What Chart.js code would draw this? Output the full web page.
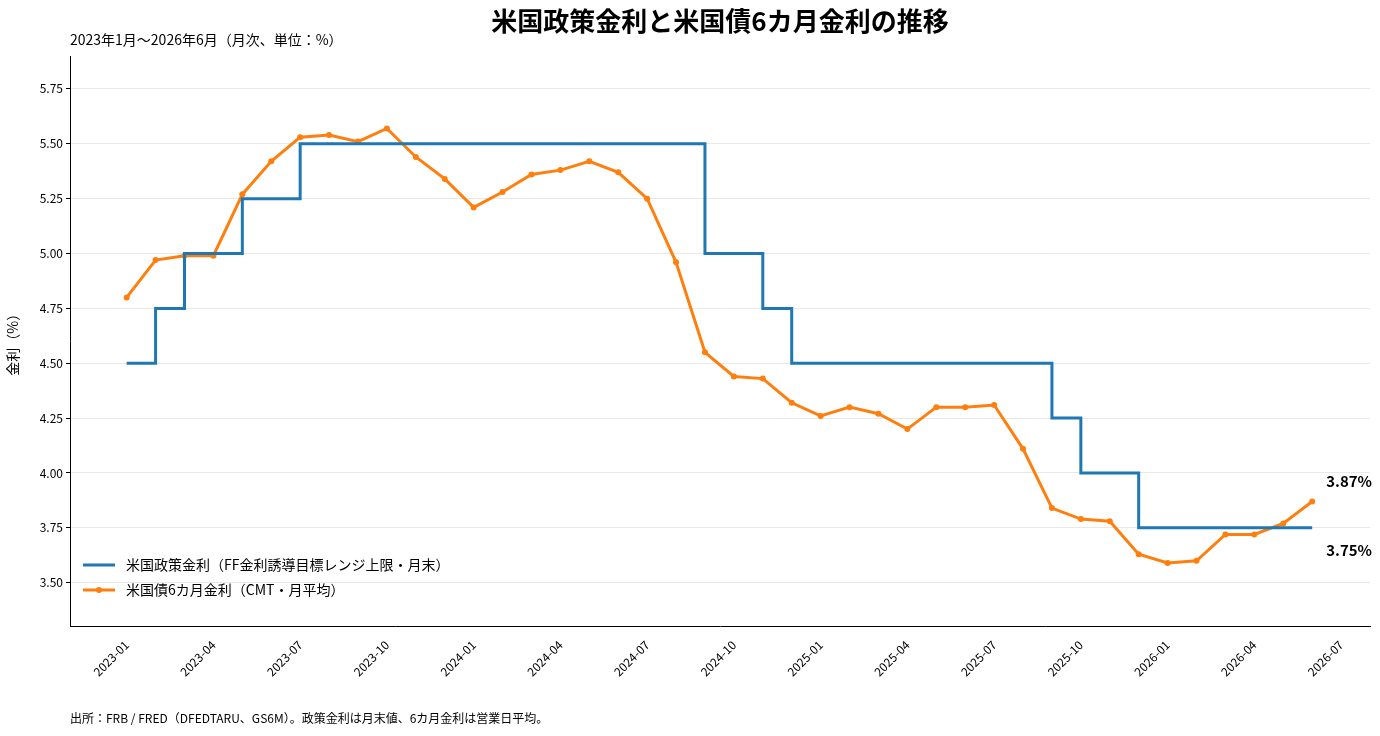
<!DOCTYPE html>
<html><head><meta charset="utf-8">
<script src="https://cdn.jsdelivr.net/npm/chart.js@4"></script>
<style>body{margin:0;background:#fff}#w{width:1380px;height:736px}</style>
</head><body><div id="w"><canvas id="c"></canvas></div>
<script>
const months = [];
for (let y = 2023; y <= 2026; y++) for (let m = 1; m <= 12; m++) if (y < 2026 || m <= 6) months.push(y + '-' + String(m).padStart(2, '0'));
const policyRate = [4.50,4.75,5.00,5.00,5.25,5.25,5.50,5.50,5.50,5.50,5.50,5.50,
  5.50,5.50,5.50,5.50,5.50,5.50,5.50,5.50,5.00,5.00,4.75,4.50,
  4.50,4.50,4.50,4.50,4.50,4.50,4.50,4.50,4.25,4.00,4.00,3.75,
  3.75,3.75,3.75,3.75,3.75,3.75];
const bill6m = [4.80,4.97,4.99,4.99,5.27,5.42,5.53,5.54,5.51,5.57,5.44,5.34,
  5.21,5.28,5.36,5.38,5.42,5.37,5.25,4.96,4.55,4.44,4.43,4.32,
  4.26,4.30,4.27,4.20,4.30,4.30,4.31,4.11,3.84,3.79,3.78,3.63,
  3.59,3.60,3.72,3.72,3.77,3.87];
const yTicks = [3.50,3.75,4.00,4.25,4.50,4.75,5.00,5.25,5.50,5.75];
const seriesNames = ['米国政策金利（FF金利誘導目標レンジ上限・月末）', '米国債6カ月金利（CMT・月平均）'];
const F = '"Noto Sans CJK JP","Noto Sans",sans-serif';
const blue = '#1f77b4', orange = '#ff7f0e';
const last = months.length - 1;

const extras = {
  id: 'extras',
  afterDraw(ch) {
    const c = ch.ctx, a = ch.chartArea, x = ch.scales.x, y = ch.scales.y;
    c.save();
    c.fillStyle = '#000';
    c.font = 'bold 26px ' + F; c.textAlign = 'center'; c.textBaseline = 'middle';
    c.fillText('米国政策金利と米国債6カ月金利の推移', 720, 21);
    c.font = '14px ' + F; c.textAlign = 'left';
    c.fillText('2023年1月〜2026年6月（月次、単位：%）', 70, 40);
    c.font = '12px ' + F;
    c.fillText('出所：FRB / FRED（DFEDTARU、GS6M）。政策金利は月末値、6カ月金利は営業日平均。', 70, 718);
    c.font = 'bold 15px ' + F;
    c.fillText(bill6m[last].toFixed(2) + '%', x.getPixelForValue(last) + 14, y.getPixelForValue(bill6m[last]) - 20);
    c.fillText(policyRate[last].toFixed(2) + '%', x.getPixelForValue(last) + 14, y.getPixelForValue(policyRate[last]) + 22);
    // legend
    c.font = '14px ' + F;
    [[blue, false, 565], [orange, true, 590]].forEach(([col, pt, ly], i) => {
      c.strokeStyle = col; c.lineWidth = 3;
      c.beginPath(); c.moveTo(83, ly); c.lineTo(115, ly); c.stroke();
      if (pt) { c.fillStyle = col; c.beginPath(); c.arc(99, ly, 3, 0, 7); c.fill(); }
      c.fillStyle = '#000'; c.fillText(seriesNames[i], 126, ly);
    });
    c.restore();
  }
};

new Chart(document.getElementById('c'), {
  type: 'line',
  data: {
    datasets: [
      { label: seriesNames[0], data: policyRate.map((v, i) => ({x: i, y: v})), borderColor: blue, borderWidth: 3, stepped: 'before', pointRadius: 0 },
      { label: seriesNames[1], data: bill6m.map((v, i) => ({x: i, y: v})), borderColor: orange, backgroundColor: orange, borderWidth: 3, pointRadius: 3, pointBorderWidth: 0 }
    ]
  },
  plugins: [extras],
  options: {
    responsive: true, maintainAspectRatio: false, animation: false,
    layout: { padding: { top: 56, right: 10, bottom: 54, left: 0 } },
    plugins: { legend: { display: false }, tooltip: { enabled: false } },
    scales: {
      x: {
        type: 'linear', min: -1.96, max: 43,
        afterBuildTicks(s) { const t = []; for (let i = 0; i <= 42; i += 3) t.push({value: i}); s.ticks = t; },
        ticks: { autoSkip: false, maxRotation: 45, minRotation: 45, color: '#000', font: { size: 12, family: F },
          callback: v => v < months.length ? months[v] : '2026-07' },
        grid: { display: false, drawTicks: true },
        border: { color: '#000' }
      },
      y: {
        min: 3.30, max: 5.90,
        afterBuildTicks(s) { s.ticks = yTicks.map(v => ({value: v})); },
        afterFit(s) { s.width = 70; },
        ticks: { color: '#000', font: { size: 12, family: F }, callback: v => v.toFixed(2) },
        grid: { color: '#e8e8e8', drawTicks: true, tickColor: '#000', tickLength: 4 },
        border: { color: '#000' },
        title: { display: true, text: '金利（%）', color: '#000', font: { size: 14, family: F } }
      }
    }
  }
});
</script></body></html>
